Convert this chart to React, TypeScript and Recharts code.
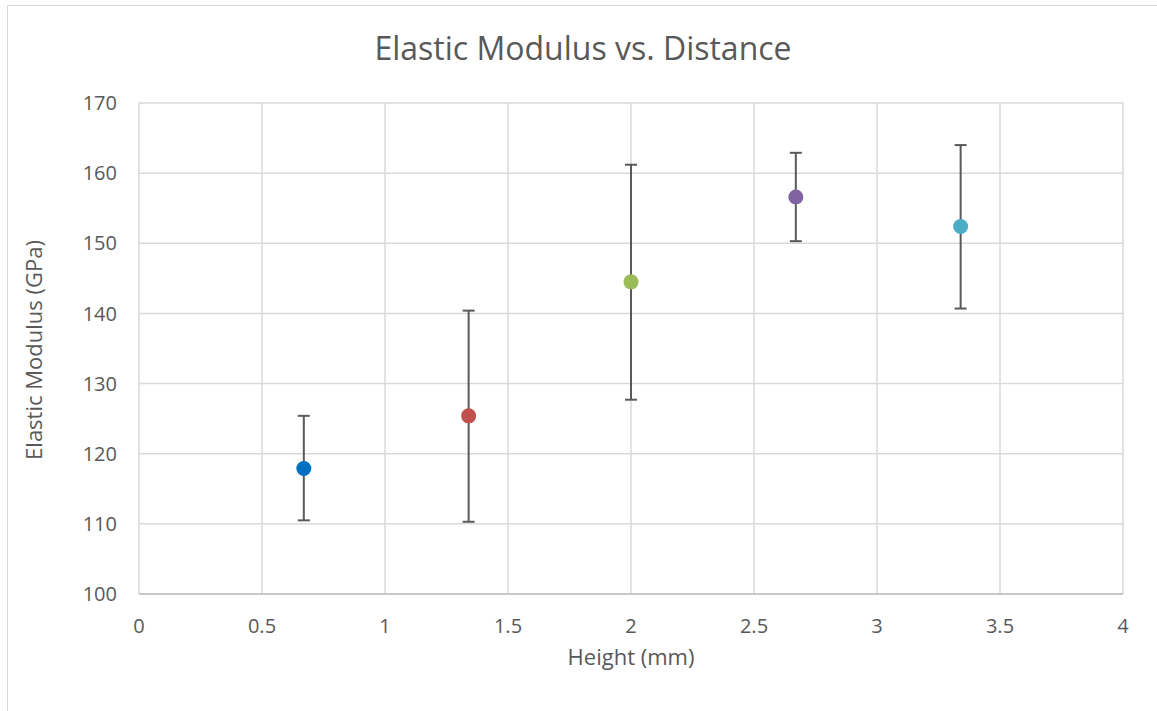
import { ScatterChart, Scatter, XAxis, YAxis, CartesianGrid, ErrorBar, Cell } from "recharts";

const heights = [0.67, 1.34, 2.0, 2.67, 3.34];
const moduli = [117.9, 125.4, 144.5, 156.6, 152.4];
const errMinus = [7.4, 15.1, 16.8, 6.3, 11.7];
const errPlus = [7.5, 15.0, 16.7, 6.3, 11.6];

const xTicks = [0, 0.5, 1, 1.5, 2, 2.5, 3, 3.5, 4];
const yTicks = [100, 110, 120, 130, 140, 150, 160, 170];

const COLORS = ["#0070C0", "#C0504D", "#9BBB59", "#8064A2", "#4BACC6"];

const data = heights.map((h, i) => ({
  height: h,
  modulus: moduli[i],
  err: [errMinus[i], errPlus[i]],
}));

const FONT = "'Open Sans', sans-serif";
const TEXT = "#595959";

const Dot = (props: any) => (
  <circle cx={props.cx} cy={props.cy} r={7.5} fill={props.fill} />
);

export default function App() {
  return (
    <div
      style={{
        position: "absolute",
        left: 0,
        top: 0,
        width: 1157,
        height: 711,
        overflow: "hidden",
        background: "#fff",
        fontFamily: FONT,
      }}
    >
      <div
        style={{
          position: "absolute",
          left: 7,
          top: 5,
          width: 1170,
          height: 730,
          border: "1px solid #d9d9d9",
        }}
      />
      <div
        style={{
          position: "absolute",
          left: 0,
          width: 1166,
          top: 26,
          textAlign: "center",
          fontSize: 32,
          color: TEXT,
        }}
      >
        Elastic Modulus vs. Distance
      </div>
      <div style={{ position: "absolute", left: 0, top: 0 }}>
        <ScatterChart
          width={1157}
          height={711}
          margin={{ top: 103, right: 34, left: 79, bottom: 0 }}
        >
          <CartesianGrid stroke="#d9d9d9" strokeWidth={1.5} />
          <XAxis
            type="number"
            dataKey="height"
            domain={[0, 4]}
            ticks={xTicks}
            interval={0}
            height={117}
            axisLine={{ stroke: "#bfbfbf", strokeWidth: 1.5 }}
            tickLine={false}
            tickSize={0}
            tickMargin={25}
            tick={{ fill: TEXT, fontSize: 20, fontFamily: FONT }}
            label={{
              value: "Height (mm)",
              position: "insideTop",
              offset: 55,
              fill: TEXT,
              fontSize: 22,
              fontFamily: FONT,
            }}
          />
          <YAxis
            type="number"
            dataKey="modulus"
            domain={[100, 170]}
            ticks={yTicks}
            interval={0}
            width={60}
            axisLine={false}
            tickLine={false}
            tickSize={0}
            tickMargin={22}
            tick={{ fill: TEXT, fontSize: 20, fontFamily: FONT }}
          />
          <Scatter data={data} isAnimationActive={false} shape={Dot}>
            {data.map((_, i) => (
              <Cell key={i} fill={COLORS[i]} />
            ))}
            <ErrorBar
              dataKey="err"
              direction="y"
              width={6}
              stroke="#595959"
              strokeWidth={2}
            />
          </Scatter>
        </ScatterChart>
      </div>
      <div
        style={{
          position: "absolute",
          left: 33,
          top: 350,
          transform: "translate(-50%, -50%) rotate(-90deg)",
          whiteSpace: "nowrap",
          fontSize: 22,
          color: TEXT,
        }}
      >
        Elastic Modulus (GPa)
      </div>
    </div>
  );
}
